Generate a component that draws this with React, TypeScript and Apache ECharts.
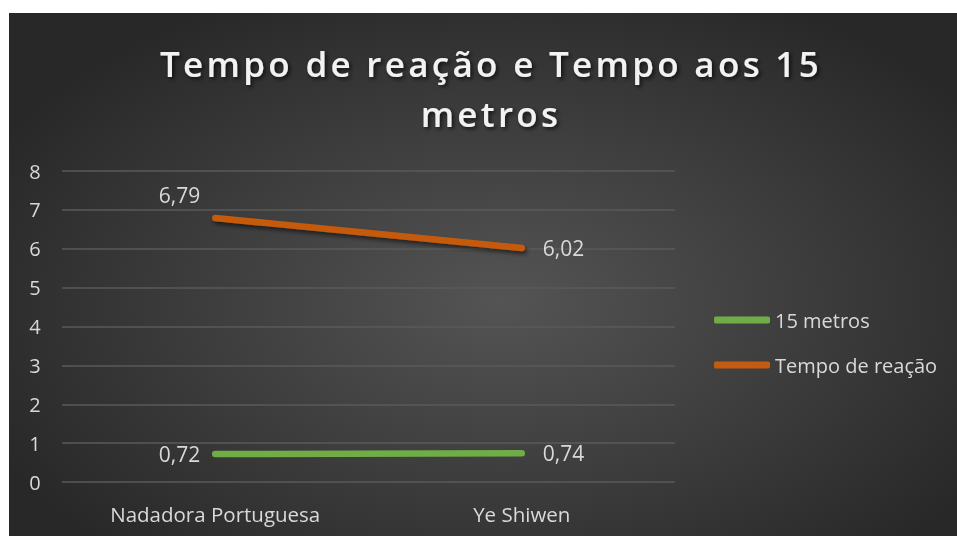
import React, { useEffect, useRef } from "react";
import * as echarts from "echarts";

const categories = ["Nadadora Portuguesa", "Ye Shiwen"];
const metros15 = [0.72, 0.74];
const tempoReacao = [6.79, 6.02];
const seriesNames = ["15 metros", "Tempo de reação"];
const titleLines = ["Tempo de reação e Tempo aos 15", "metros"];

const FONT = "'Open Sans', sans-serif";
const TXT = "#d9d9d9";

export default function App() {
  const ref = useRef<HTMLDivElement>(null);
  useEffect(() => {
    if (!ref.current) return;
    const chart = echarts.init(ref.current, null, { renderer: "svg" });
    const fmt = (p: any) => String(p.value).replace(".", ",");
    const lbl = { show: true, formatter: fmt, color: TXT, fontFamily: FONT, fontSize: 21 };
    chart.setOption({
      animation: false,
      backgroundColor: "transparent",
      title: {
        text: titleLines.join("\n"),
        left: 477,
        textAlign: "center",
        top: 20,
        padding: 5,
        textStyle: {
          fontFamily: FONT,
          fontWeight: 600,
          fontSize: 35,
          lineHeight: 50,
          color: "#f2f2f2",
          textShadowColor: "rgba(0,0,0,0.7)",
          textShadowBlur: 4,
          textShadowOffsetX: 2,
          textShadowOffsetY: 2,
        },
      },
      grid: { left: 53, right: 282, top: 158, bottom: 54, containLabel: false },
      legend: {
        orient: "vertical",
        left: 700,
        top: 292,
        itemWidth: 56,
        itemHeight: 7,
        itemGap: 25,
        icon: "roundRect",
        textStyle: { color: TXT, fontFamily: FONT, fontSize: 20 },
        data: seriesNames,
      },
      xAxis: {
        type: "category",
        data: categories,
        axisLine: { show: false },
        axisTick: { show: false },
        axisLabel: { color: TXT, fontFamily: FONT, fontSize: 20.5, margin: 21 },
      },
      yAxis: {
        type: "value",
        min: 0,
        max: 8,
        interval: 1,
        axisLine: { show: false },
        axisTick: { show: false },
        axisLabel: { color: TXT, fontFamily: FONT, fontSize: 20, margin: 27, align: "center" },
        splitLine: { lineStyle: { color: "#5a5a5a", width: 1.5 } },
      },
      series: [
        {
          name: seriesNames[0],
          type: "line",
          data: metros15.map((v, i) => ({
            value: v,
            label: i === 0 ? { position: "left", distance: 15 } : { position: "right", distance: 21 },
          })),
          showSymbol: true,
          symbol: "circle",
          symbolSize: 0.1,
          color: "#70AD47",
          lineStyle: { width: 6.5, color: "#70AD47", cap: "round" },
          label: lbl,
        },
        {
          name: seriesNames[1],
          type: "line",
          data: tempoReacao.map((v, i) => ({
            value: v,
            label:
              i === 0
                ? { position: "left", distance: 15, offset: [0, -23] }
                : { position: "right", distance: 21 },
          })),
          showSymbol: true,
          symbol: "circle",
          symbolSize: 0.1,
          color: "#C55A11",
          lineStyle: {
            width: 6.5,
            color: "#C55A11",
            cap: "round",
            shadowColor: "rgba(0,0,0,0.55)",
            shadowBlur: 4,
            shadowOffsetX: 2,
            shadowOffsetY: 3,
          },
          label: lbl,
        },
      ],
    });
    return () => chart.dispose();
  }, []);
  return (
    <>
      <style>{`text[style*="35px"], text[font-size="35px"], text[font-size="35"] { letter-spacing: 3.3px; }`}</style>
      <div
        ref={ref}
        style={{
          position: "fixed",
          left: 9,
          top: 13,
          width: 948,
          height: 523,
          background:
            "radial-gradient(ellipse 60% 65% at 52% 55%, #545454 0%, #3c3c3c 55%, #282828 100%)",
        }}
      />
    </>
  );
}
